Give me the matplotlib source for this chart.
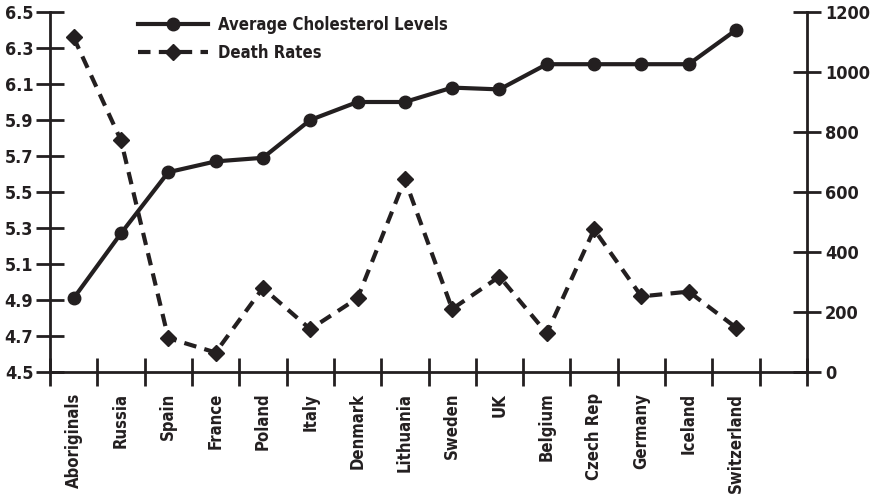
import matplotlib
matplotlib.use('Agg')
import matplotlib.pyplot as plt
from matplotlib.lines import Line2D

countries = ['Aboriginals', 'Russia', 'Spain', 'France', 'Poland', 'Italy',
             'Denmark', 'Lithuania', 'Sweden', 'UK', 'Belgium', 'Czech Rep',
             'Germany', 'Iceland', 'Switzerland']
cholesterol = [4.91, 5.27, 5.61, 5.67, 5.69, 5.90, 6.00, 6.00, 6.08, 6.07,
               6.21, 6.21, 6.21, 6.21, 6.40]
death_rates = [1115, 772, 113, 65, 280, 143, 246, 642, 210, 318, 129, 475,
               252, 268, 148]

left_ticks = [4.5, 4.7, 4.9, 5.1, 5.3, 5.5, 5.7, 5.9, 6.1, 6.3, 6.5]
right_ticks = [0, 200, 400, 600, 800, 1000, 1200]

ink = '#231f20'
plt.rcParams['font.family'] = ['DejaVu Sans']
plt.rcParams['font.stretch'] = 'condensed'
plt.rcParams['font.weight'] = 'bold'
plt.rcParams['font.size'] = 12

fig = plt.figure(figsize=(8.71, 4.96), dpi=100)
ax = fig.add_axes([50 / 871, 1 - 372 / 496, 757 / 871, 360 / 496])
ax2 = ax.twinx()

x = list(range(len(countries)))
ax.plot(x, cholesterol, color=ink, lw=3, marker='o', ms=9, clip_on=False,
        zorder=3)
ax2.plot(x, death_rates, color=ink, lw=3, dashes=(3, 2), marker='D', ms=8,
         clip_on=False, zorder=3)

n = len(countries) + 1
ax.set_xlim(-0.5, n - 0.5)
ax.set_ylim(4.5, 6.5)
ax2.set_ylim(0, 1200)

# tick marks at slot boundaries, labels at slot centres
ax.set_xticks([i - 0.5 for i in range(n + 1)])
ax.set_xticklabels([])
ax.set_xticks(x, minor=True)
ax.set_xticklabels(countries, minor=True, rotation=90, color=ink,
                   fontweight='bold')
ax.tick_params(axis='x', which='major', direction='inout', length=20,
               width=2, color=ink)
ax.tick_params(axis='x', which='minor', length=0, pad=15)

ax.set_yticks(left_ticks)
ax.set_yticklabels(['%.1f' % t for t in left_ticks])
ax.tick_params(axis='y', direction='inout', length=20, width=2, color=ink,
               labelcolor=ink, labelsize=13, pad=2)
ax2.set_yticks(right_ticks)
ax2.tick_params(axis='y', direction='inout', length=20, width=2, color=ink,
                labelcolor=ink, labelsize=13, pad=3)

for a in (ax, ax2):
    a.spines['top'].set_visible(False)
    for s in ('left', 'right', 'bottom'):
        a.spines[s].set_linewidth(2)
        a.spines[s].set_color(ink)
ax.spines['right'].set_visible(False)
ax2.spines['left'].set_visible(False)
ax2.spines['bottom'].set_visible(False)

handles = [
    Line2D([], [], color=ink, lw=3, marker='o', ms=9),
    Line2D([], [], color=ink, lw=3, dashes=(3, 2), marker='D', ms=8),
]
ax.legend(handles, ['Average Cholesterol Levels', 'Death Rates'],
          loc='upper left', bbox_to_anchor=(0.097, 1.03), frameon=False,
          handlelength=4.2, handletextpad=0.6, labelspacing=0.6,
          labelcolor=ink)

fig.savefig('out.png', dpi=100)
